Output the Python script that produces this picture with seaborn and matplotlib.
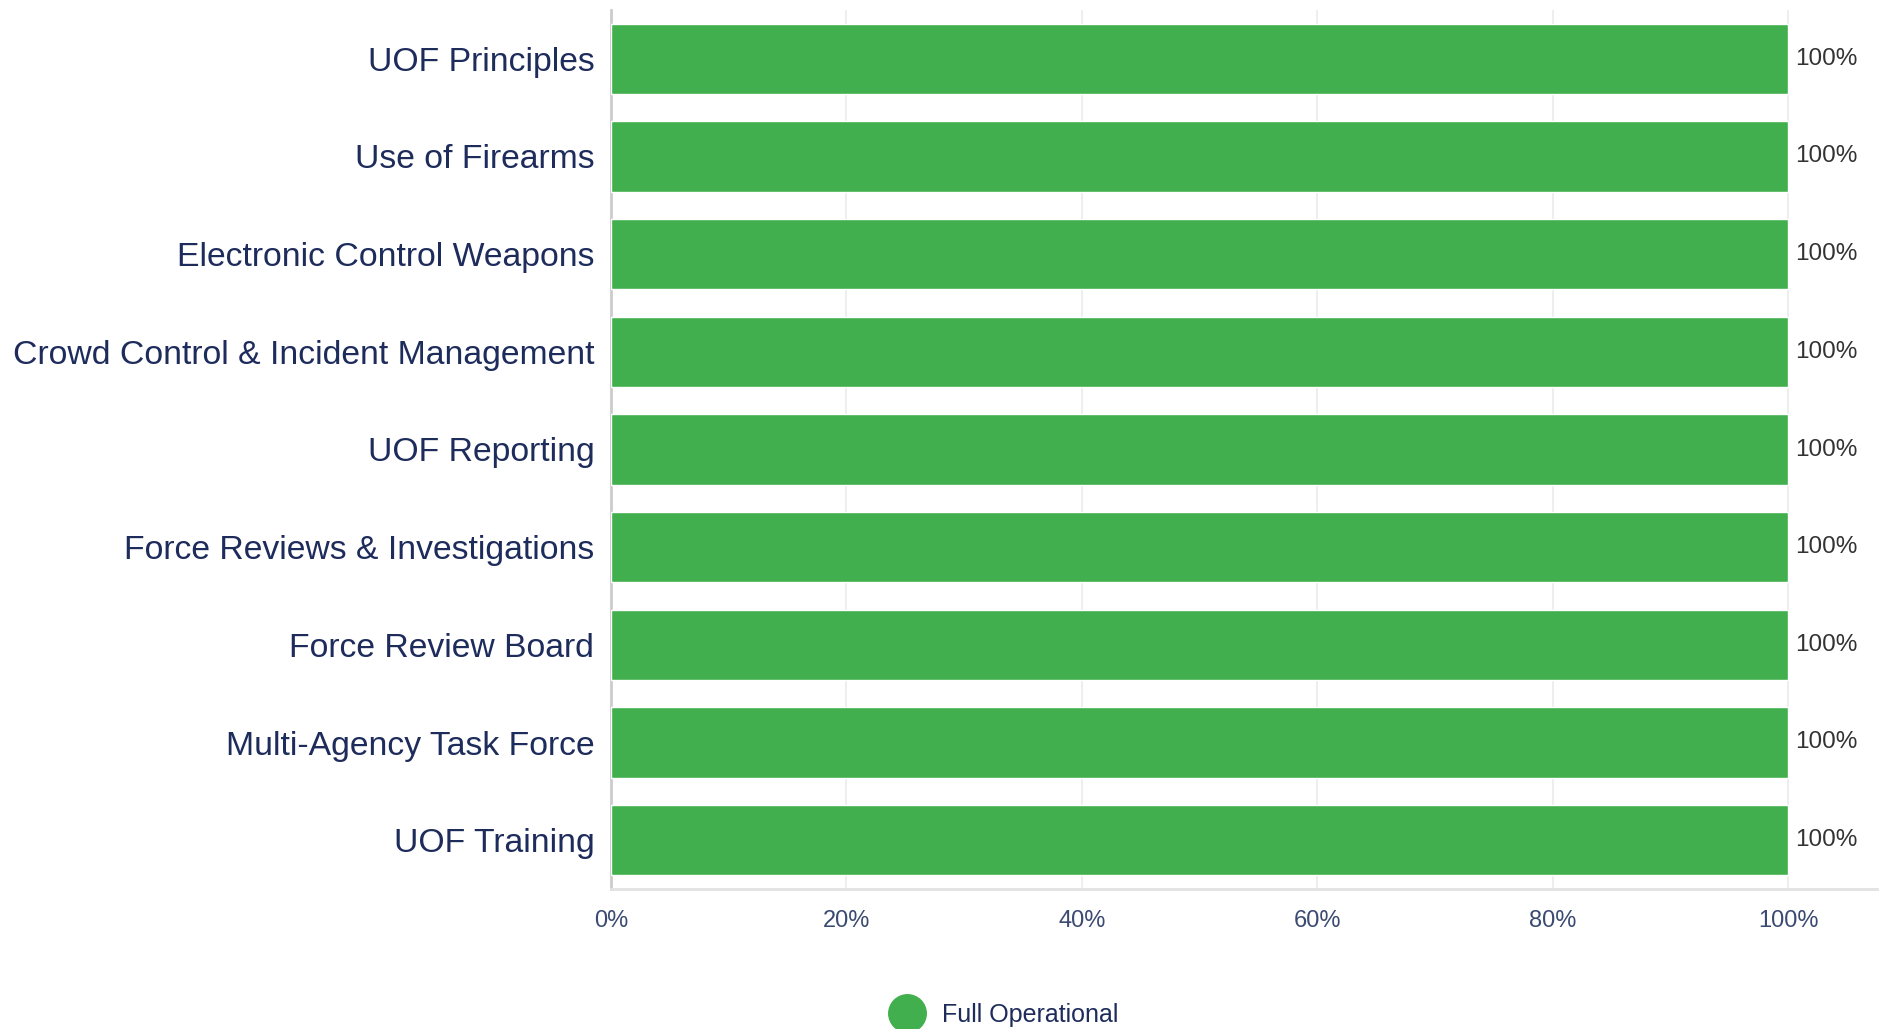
import matplotlib
matplotlib.use("Agg")
import matplotlib.pyplot as plt
import seaborn as sns
import pandas as pd
from matplotlib.lines import Line2D
from matplotlib.ticker import FuncFormatter

categories = [
    "UOF Principles",
    "Use of Firearms",
    "Electronic Control Weapons",
    "Crowd Control & Incident Management",
    "UOF Reporting",
    "Force Reviews & Investigations",
    "Force Review Board",
    "Multi-Agency Task Force",
    "UOF Training",
]
values = [1.0, 1.0, 1.0, 1.0, 1.0, 1.0, 1.0, 1.0, 1.0]
series_name = "Full Operational"
x_ticks = [0, 0.2, 0.4, 0.6, 0.8, 1.0]

GREEN = "#41AF4D"
NAVY = "#1E2C5C"
TICK = "#3B4A72"

sns.set_theme(style="white")
plt.rcParams["font.family"] = ["Liberation Sans", "DejaVu Sans"]

df = pd.DataFrame({"category": categories, "value": values})

fig = plt.figure(figsize=(18.79, 10.29), dpi=100)
ax = fig.add_axes([611 / 1879, 1 - 889 / 1029, 1 - 611 / 1879, (889 - 10) / 1029])

sns.barplot(data=df, x="value", y="category", orient="h", color=GREEN,
            width=0.72, saturation=1, ax=ax, zorder=3)

ax.set_xlim(0, 1.077)
ax.set_ylim(len(categories) - 0.5, -0.5)
ax.set_xticks(x_ticks)
ax.xaxis.set_major_formatter(FuncFormatter(lambda v, p: f"{v*100:.0f}%"))
ax.set_xlabel("")
ax.set_ylabel("")

for xt in x_ticks:
    ax.axvline(xt, color="#EBEBEB", lw=1.2, zorder=0)

for s in ["top", "right"]:
    ax.spines[s].set_visible(False)
ax.spines["left"].set_color("#CCCCCC")
ax.spines["left"].set_linewidth(2)
ax.spines["bottom"].set_color("#E2E2E2")
ax.spines["bottom"].set_linewidth(2)

ax.tick_params(axis="y", length=0, pad=12, labelsize=24.3, labelcolor=NAVY)
ax.tick_params(axis="x", length=0, pad=15, labelsize=17, labelcolor=TICK)

for i, v in enumerate(values):
    ax.text(v + 0.006, i, f"{v*100:.0f}%", va="center", ha="left",
            fontsize=17.5, color="#333333")

handle = Line2D([], [], marker="o", linestyle="none", markersize=27,
                markerfacecolor=GREEN, markeredgecolor=GREEN)
fig.legend([handle], [series_name], loc="center",
           bbox_to_anchor=(1000 / 1879, 1 - 1015 / 1029), frameon=False,
           fontsize=18, labelcolor=NAVY, handletextpad=0.4)

fig.savefig("out.png", dpi=100)
